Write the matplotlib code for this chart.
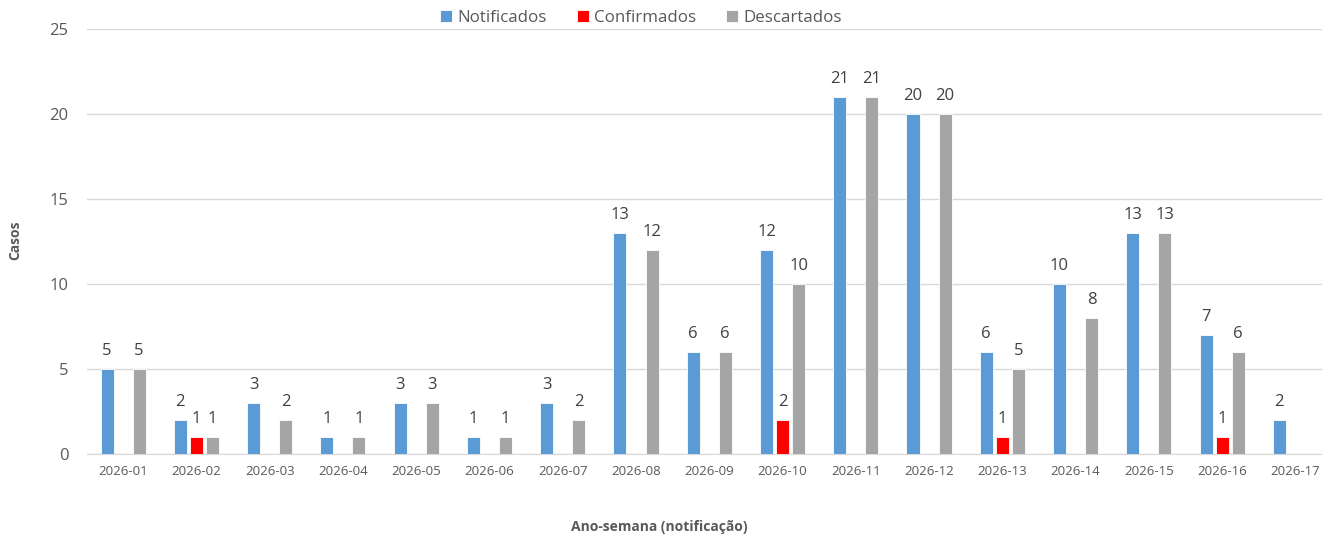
import matplotlib
matplotlib.use("Agg")
import matplotlib.pyplot as plt
import numpy as np

categories = ["2026-01","2026-02","2026-03","2026-04","2026-05","2026-06","2026-07","2026-08",
              "2026-09","2026-10","2026-11","2026-12","2026-13","2026-14","2026-15","2026-16","2026-17"]
notificados = [5,2,3,1,3,1,3,13,6,12,21,20,6,10,13,7,2]
confirmados = [0,1,0,0,0,0,0,0,0,2,0,0,1,0,0,1,0]
descartados = [5,1,2,1,3,1,2,12,6,10,21,20,5,8,13,6,0]

series = [("Notificados", notificados, "#5B9BD5"),
          ("Confirmados", confirmados, "#FF0000"),
          ("Descartados", descartados, "#A5A5A5")]

plt.rcParams['font.family'] = ['Open Sans', 'DejaVu Sans']
W, H = 1322, 535
fig = plt.figure(figsize=(W/100, H/100), dpi=100)
left, right, bottom, top = 86.5, 1332, 454, 29
ax = fig.add_axes([left/W, (H-bottom)/H, (right-left)/W, (bottom-top)/H])

x = np.arange(len(categories))
bw = 0.178
off = 0.219
for i, (name, vals, col) in enumerate(series):
    pos = x + (i-1)*off
    ax.bar(pos, vals, bw, color=col, label=name, edgecolor='white', linewidth=0.6, zorder=3)
    for p, v in zip(pos, vals):
        if v:
            ax.text(p, v + 0.6, str(v), ha='center', va='bottom', fontsize=12, color='#404040')

ax.set_xlim(-0.5, len(categories)-0.5)
ax.set_ylim(0, 25)
ax.set_yticks(range(0, 26, 5))
ax.set_xticks(x)
ax.set_xticklabels(categories, fontsize=9.5, color='#595959')
ax.tick_params(axis='y', labelsize=12, colors='#595959', length=0, pad=13)
ax.tick_params(axis='x', length=0, pad=8)
ax.grid(axis='y', color='#D9D9D9', linewidth=1, zorder=0)
for s in ['top', 'right', 'left']:
    ax.spines[s].set_visible(False)
ax.spines['bottom'].set_color('#D9D9D9')

fig.text(15/W, 1 - 240/H, "Casos", rotation=90, ha='center', va='center',
         fontsize=10, fontweight='bold', color='#595959')
fig.text(659/W, 1 - 527/H, "Ano-semana (notificação)", ha='center', va='center',
         fontsize=10, fontweight='bold', color='#595959')

fig.legend(loc='center', bbox_to_anchor=(641/W, 1 - 18/H), ncol=3, frameon=False,
           fontsize=12.2, handlelength=0.7, handleheight=0.7, handletextpad=0.3,
           columnspacing=1.8, labelcolor='#595959')

fig.savefig("out.png", dpi=100)
